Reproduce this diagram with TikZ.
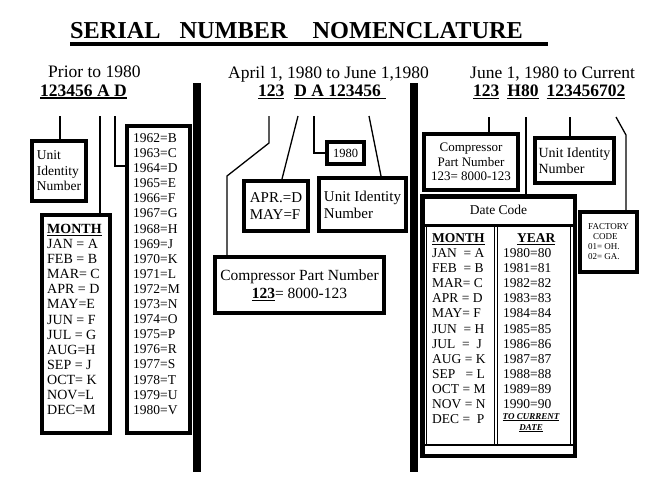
\documentclass[tikz,border=0pt]{standalone}
\usepackage{fontspec}
\setmainfont{Liberation Serif}
\usepackage{xcolor}
\usepackage{tikz}
\usetikzlibrary{positioning}

\newcommand{\snline}[1]{\vtop{\hbox{#1}\kern1.2pt\hrule height 1.6pt}}

\begin{document}
\begin{tikzpicture}[
  x=1pt, y=-1pt,
  box/.style={rectangle, draw=black, line width=4pt, inner sep=0pt, align=left},
  heading/.style={anchor=base west, inner sep=0pt, font=\fontsize{17.5}{20}\selectfont},
  serial/.style={anchor=base west, inner sep=0pt, font=\bfseries\fontsize{17.5}{20}\selectfont},
  listtext/.style={anchor=north west, inner sep=0pt, align=left, font=\fontsize{14}{15.1}\selectfont},
  link/.style={line width=1.3pt},
  bar/.style={fill=black}
]
\useasboundingbox (0,0) rectangle (672,499);

% Title
\node (title) [anchor=base west, inner sep=0pt, font=\bfseries\fontsize{24.3}{28}\selectfont] at (70,38) {SERIAL\hspace{19pt}NUMBER\hspace{25pt}NOMENCLATURE};
\draw [line width=4pt] ([yshift=-6pt]title.base west) -- ++(478,0);

% Headings
\node (prior) [heading] at (48,77) {Prior to 1980};
\node (april) [heading] at (228,78) {April 1, 1980 to June 1,1980};
\node (june) [heading] at (470,78) {June 1, 1980 to Current};

\node (sn1) [serial] at (40,96) {\snline{123456 A D}};
\node (sn2) [serial] at (258,96.5) {\snline{123}\hspace{10pt}\snline{D A 123456\hspace{5pt}}};
\node (sn3) [serial] at (473,96.5) {\snline{123}\hspace{8pt}\snline{H80}\hspace{8pt}\snline{123456702}};

% Dividers
\fill [bar] (193,83) rectangle (201,472);
\fill [bar] (410,83) rectangle (418,472);

% Prior to 1980
\node (uid1) [box, minimum width=54pt, minimum height=60pt, font=\fontsize{13.5}{15.5}\selectfont] at (59,171) {Unit\\Identity\\Number};
\node (month1) [box, minimum width=68pt, minimum height=218pt] at (76,324) {};
\node (year1) [box, minimum width=63pt, minimum height=307pt] at (158.5,279.5) {};
\node (monthlist1) [listtext] at (47,224) {\textbf{\underline{MONTH}}\\JAN = A\\FEB = B\\MAR= C\\APR = D\\MAY=E\\JUN = F\\JUL = G\\AUG=H\\SEP = J\\OCT= K\\NOV=L\\DEC=M};
\node (yearlist1) [listtext, font=\fontsize{13.5}{15.1}\selectfont] at (133,133.3) {1962=B\\1963=C\\1964=D\\1965=E\\1966=F\\1967=G\\1968=H\\1969=J\\1970=K\\1971=L\\1972=M\\1973=N\\1974=O\\1975=P\\1976=R\\1977=S\\1978=T\\1979=U\\1980=V};

% April 1, 1980 to June 1, 1980
\node (apr) [box, minimum width=64pt, minimum height=50pt, font=\fontsize{15}{17.5}\selectfont] at (276,206) {APR.=D\\MAY=F};
\node (code80) [box, minimum width=37pt, minimum height=22pt, font=\fontsize{12.5}{14}\selectfont] at (345.5,153) {1980};
\node (uid2) [box, minimum width=87pt, minimum height=53pt, font=\fontsize{15}{17}\selectfont] at (362.5,204.5) {Unit Identity\\Number};
\node (part2) [box, minimum width=169pt, minimum height=56pt, align=center, font=\fontsize{15.5}{18}\selectfont] at (299.5,285) {Compressor Part Number\\\textbf{\underline{123}}= 8000-123};

% June 1, 1980 to Current
\node (part3) [box, minimum width=94pt, minimum height=56pt, align=center, font=\fontsize{13}{14.5}\selectfont] at (471,162) {Compressor\\Part Number\\123= 8000-123};
\node (uid3) [box, minimum width=79pt, minimum height=45pt, font=\fontsize{14}{16}\selectfont] at (574.5,160.5) {Unit Identity\\Number};
\node (factory) [box, minimum width=57pt, minimum height=60pt, font=\fontsize{9}{10}\selectfont] at (608.5,242) {FACTORY\\\hspace{5pt}CODE\\01= OH.\\02= GA.};

\node (datecode) [box, line width=4.5pt, minimum width=152.5pt, minimum height=259.5pt] at (498.5,326) {};
\node (datehead) [inner sep=0pt, font=\fontsize{13.5}{15}\selectfont] at (498.5,209.5) {Date Code};
\draw [line width=2.5pt] (422,225.5) -- (575,225.5);
\draw [line width=0.8pt] (494,226) -- (494,445) (497.5,226) -- (497.5,445);
\draw [line width=0.8pt] (426.5,226) -- (426.5,445) (570.5,226) -- (570.5,445);
\draw [line width=1.5pt] (422,445) -- (575,445);
\node (monthlist3) [listtext, font=\fontsize{13.5}{15.1}\selectfont] at (432,233.3) {\textbf{\underline{MONTH}}\\JAN~ = A\\FEB~ = B\\MAR= C\\APR = D\\MAY= F\\JUN~ = H\\JUL~ = ~J\\AUG = K\\SEP~~ = L\\OCT = M\\NOV = N\\DEC = ~P};
\node (yearlist3) [listtext, font=\fontsize{13.5}{15.1}\selectfont] at (503,233.3) {\hspace{14pt}\textbf{\underline{YEAR}}\\1980=80\\1981=81\\1982=82\\1983=83\\1984=84\\1985=85\\1986=86\\1987=87\\1988=88\\1989=89\\1990=90};
\node (tocur) [anchor=north, inner sep=0pt, align=center, font=\bfseries\itshape\fontsize{9}{11}\selectfont] at (531,413) {\underline{TO CURRENT}\\\underline{DATE}};

% Connectors
\coordinate (a1) at (60,116);
\coordinate (a2) at (100,116);
\coordinate (a3) at (115,116);
\coordinate (a3k) at (115,166);
\coordinate (b1) at (269,116);
\coordinate (b1k1) at (269,143);
\coordinate (b1k2) at (227,176);
\coordinate (b2) at (298,116);
\coordinate (b3) at (314,116);
\coordinate (b4) at (369,116);
\coordinate (c1) at (489,117);
\coordinate (c2) at (526,117);
\coordinate (c3) at (570,117);
\coordinate (c4) at (616,117);
\coordinate (c4k) at (626,135);

\draw [link] (a1) -- (a1 |- uid1.north);
\draw [link] (a2) -- (a2 |- month1.north);
\draw [link] (a3) -- (a3k) -- (a3k -| year1.west);
\draw [link] (b1) -- (b1k1) -- (b1k2) -- (b1k2 |- part2.north);
\draw [link] (b2) -- ([xshift=6pt]apr.north);
\draw [link] (b3) |- (code80.west);
\draw [link] (b4) -- ([xshift=18.5pt]uid2.north);
\draw [link] (c1) -- (c1 |- part3.north);
\draw [link] (c2) -- (c2 |- datecode.north);
\draw [link] (c3) -- (c3 |- uid3.north);
\draw [link] (c4) -- (c4k) -- (c4k |- factory.north);
\end{tikzpicture}
\end{document}
